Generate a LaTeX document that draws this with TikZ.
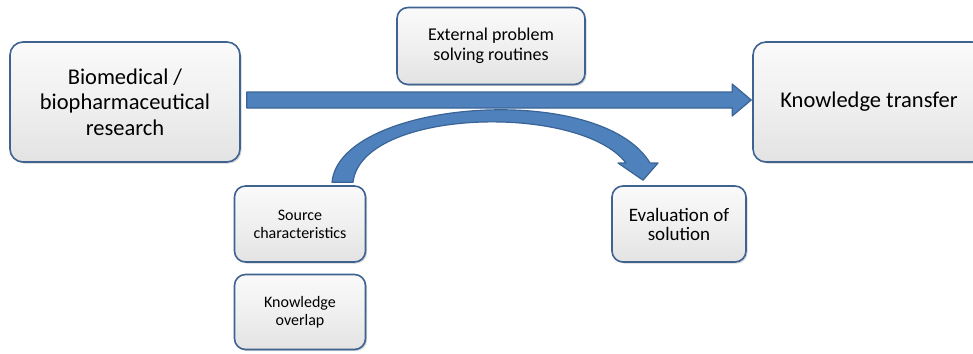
\documentclass[tikz,border=0pt]{standalone}
\usepackage{fontspec}
\setmainfont{Carlito}
\usetikzlibrary{calc,shadows}
\definecolor{boxline}{HTML}{3F6391}
\definecolor{arrowfill}{HTML}{4F81BD}
\definecolor{arrowline}{HTML}{3A6496}
\begin{document}
\begin{tikzpicture}[x=1pt,y=-1pt,
  box/.style={draw=boxline,line width=1.6pt,rounded corners=13pt,
    top color=gray!4,bottom color=gray!22,middle color=gray!12,
    drop shadow={shadow xshift=1.5pt,shadow yshift=-1.5pt,opacity=.35},
    align=center,inner sep=0pt},
  big/.style={box,font=\fontsize{22.5}{25.5}\selectfont},
  mid/.style={box,font=\fontsize{18}{20}\selectfont,rounded corners=11pt},
  small/.style={box,font=\fontsize{16}{18}\selectfont,rounded corners=11pt},
  fat/.style={fill=arrowfill,draw=arrowline,line width=1.2pt,line join=round}]
\useasboundingbox (0,0) rectangle (973,353);
\clip (0,0) rectangle (973,353);
% boxes
\node[big,minimum width=230,minimum height=120] (bio) at (125,102)
  {Biomedical /\\biopharmaceutical\\research};
\node[mid,minimum width=188,minimum height=77] (ext) at (491,46)
  {External problem\\solving routines};
\node[big,minimum width=232,minimum height=120] (kt) at (869,102)
  {Knowledge transfer};
\node[small,minimum width=131,minimum height=76] (src) at (300,224)
  {Source\\characteristics};
\node[small,minimum width=131,minimum height=75] (ovl) at (300,312)
  {Knowledge\\overlap};
\node[mid,minimum width=134,minimum height=76,font=\fontsize{19}{19}\selectfont]
  (eval) at (679,224) {Evaluation of\\solution};
% straight arrow
\coordinate (a1) at ($(bio.east)+(6,-2)$);
\coordinate (a2) at ($(kt.west)+(-1,-2)$);
\path[fat] ($(a1)+(0,-8)$) -- ($(a2)+(-19,-8)$) -- ($(a2)+(-19,-16)$)
  -- (a2) -- ($(a2)+(-19,16)$) -- ($(a2)+(-19,8)$) -- ($(a1)+(0,8)$) -- cycle;
% curved arrow
\coordinate (c1) at ($(src.north)+(32,-3)$);
\coordinate (c2) at ($(src.north)+(53,-3)$);
\coordinate (tip) at ($(eval.north)+(-36,-5)$);
\path[fat] (c1) .. controls (340,100) and (600,80) .. (650,163)
  -- (658,163) -- (tip) -- (618,163) -- (626,163)
  .. controls (580,103) and (362,108) .. (c2) -- cycle;
\end{tikzpicture}
\end{document}
